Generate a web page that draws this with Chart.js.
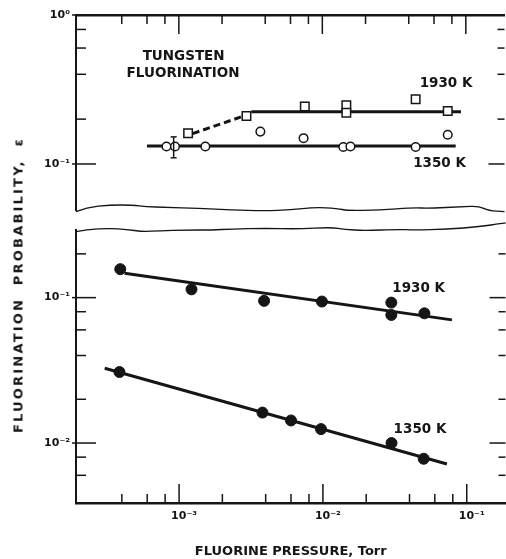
<!DOCTYPE html>
<html>
<head>
<meta charset="utf-8">
<script src="https://cdn.jsdelivr.net/npm/chart.js@4.4.0/dist/chart.umd.min.js"></script>
<style>
  html, body { margin: 0; padding: 0; background: #fff; overflow: hidden; }
  #wrap { position: relative; width: 506px; height: 559px; overflow: hidden; background: #fff; }
  canvas { position: absolute; left: 0; top: 0; }
  #ytitle {
    position: absolute; left: 18px; top: 285px;
    transform: translate(-50%, -50%) rotate(-90deg);
    white-space: nowrap; font: bold 13px "DejaVu Sans", sans-serif;
    letter-spacing: 2.2px; word-spacing: 6px; color: #151515;
  }
</style>
</head>
<body>
<div id="wrap">
  <canvas id="topChart" width="512" height="559"></canvas>
  <canvas id="bottomChart" width="512" height="559"></canvas>
  <div id="ytitle">FLUORINATION PROBABILITY, ε</div>
</div>
<script>
const INK = "#151515";
const FONT = '"DejaVu Sans", sans-serif';

// shared pressure axis (Torr)
const xMin = 1.92e-4, xMax = 0.186;
const xMajor = [1e-3, 1e-2, 1e-1];
const xMinor = [4e-4, 6e-4, 8e-4, 2e-3, 4e-3, 6e-3, 8e-3, 2e-2, 4e-2, 6e-2, 8e-2];

// upper panel
const topYMin = 0.0491, topYMax = 1;
const topYMajor = [1, 0.1];
const topYMinor = [0.8, 0.6, 0.4, 0.2];

const topP1930 = [1.16e-3, 2.96e-3, 7.55e-3, 0.0147, 0.0147, 0.0447, 0.0748];
const topE1930 = [0.161, 0.210, 0.243, 0.248, 0.221, 0.272, 0.227];
const topP1350 = [8.2e-4, 9.4e-4, 1.53e-3, 3.7e-3, 7.4e-3, 0.0140, 0.0157, 0.0447, 0.0748];
const topE1350 = [0.131, 0.131, 0.131, 0.165, 0.149, 0.130, 0.131, 0.130, 0.157];

const fitTop1350P = [6.0e-4, 0.085];
const fitTop1350E = [0.132, 0.132];
const fitTop1930DashP = [1.25e-3, 2.96e-3];
const fitTop1930DashE = [0.160, 0.213];
const fitTop1930P = [3.2e-3, 0.0925];
const fitTop1930E = [0.2244, 0.2244];

const errP = [9.2e-4];
const errLow = [0.110];
const errHigh = [0.152];

// lower panel
const botYMin = 0.00387, botYMax = 0.2918;
const botYMajor = [0.1, 0.01];
const botYMinor = [0.2, 0.08, 0.06, 0.04, 0.02, 0.008, 0.006];

const botP1930 = [3.9e-4, 1.22e-3, 3.9e-3, 9.84e-3, 0.0299, 0.0299, 0.0508];
const botE1930 = [0.157, 0.114, 0.095, 0.094, 0.0924, 0.076, 0.078];
const botP1350 = [3.85e-4, 3.8e-3, 6.0e-3, 9.7e-3, 0.030, 0.0502];
const botE1350 = [0.0308, 0.0162, 0.0143, 0.01247, 0.0100, 0.0078];

const fitBot1930P = [4.18e-4, 0.0789];
const fitBot1930E = [0.147, 0.0703];
const fitBot1350P = [3.04e-4, 0.0728];
const fitBot1350E = [0.0327, 0.00718];

// text placed in data space
const topNotes = [
  { text: "TUNGSTEN", x: 1.08e-3, y: 0.523 },
  { text: "FLUORINATION", x: 1.07e-3, y: 0.402 },
  { text: "1930 K", x: 0.0728, y: 0.348 },
  { text: "1350 K", x: 0.0656, y: 0.1 }
];
const bottomNotes = [
  { text: "1930 K", x: 0.0463, y: 0.116 },
  { text: "1350 K", x: 0.0473, y: 0.01247 }
];

// scale-break squiggles: [fraction of width, offset px from edge]
const topWave = [[0, 1.7], [0.025, -2.7], [0.079, -5], [0.132, -5], [0.163, -3.3], [0.209, -2.7], [0.286, -1.7],
  [0.363, 0], [0.44, 0.7], [0.501, 0], [0.556, -2.7], [0.61, -1.7], [0.633, 0.7], [0.709, 0], [0.787, -2.3],
  [0.824, -1.7], [0.902, -3.3], [0.94, -4], [0.963, 0.7], [1, 1.7]];
const bottomWave = [[0, 1.7], [0.025, -0.7], [0.079, -1.7], [0.117, -0.7], [0.155, 1.7], [0.194, 0.7], [0.256, 0],
  [0.316, 0], [0.363, -1], [0.44, -1.7], [0.517, -1], [0.594, -2.7], [0.625, -0.7], [0.671, 0.7], [0.748, -0.7],
  [0.787, 0], [0.864, -0.7], [0.94, -3.3], [0.993, -6.7], [1, -7]];

const SUP = { "-": "\u207B", "0": "\u2070", "1": "\u00B9", "2": "\u00B2", "3": "\u00B3" };
const powLabel = v => "10" + String(Math.round(Math.log10(v))).split("").map(c => SUP[c]).join("");
const pts = (xs, ys) => xs.map((x, i) => ({ x, y: ys[i] }));

function seg(ctx, x1, y1, x2, y2) {
  ctx.beginPath();
  ctx.moveTo(x1, y1);
  ctx.lineTo(x2, y2);
  ctx.stroke();
}

// ticks pointing inward on every edge
const inTicks = {
  id: "inTicks",
  afterDatasetsDraw(chart, args, o) {
    const { ctx, chartArea: a, scales: { x, y } } = chart;
    ctx.save();
    ctx.strokeStyle = INK;
    ctx.lineWidth = 1.5;
    o.yMajor.forEach(v => {
      const p = y.getPixelForValue(v);
      seg(ctx, a.left - 4, p, a.left + 20, p);
      seg(ctx, a.right - 16, p, a.right, p);
    });
    o.yMinor.forEach(v => {
      const p = y.getPixelForValue(v);
      seg(ctx, a.left, p, a.left + 10, p);
      seg(ctx, a.right - 7, p, a.right, p);
    });
    const edge = o.xEdge === "top" ? a.top : a.bottom;
    const dir = o.xEdge === "top" ? 1 : -1;
    xMajor.forEach(v => {
      const p = x.getPixelForValue(v);
      seg(ctx, p, edge, p, edge + dir * 19);
    });
    xMinor.forEach(v => {
      const p = x.getPixelForValue(v);
      seg(ctx, p, edge, p, edge + dir * 9);
    });
    ctx.restore();
  }
};

const breakLine = {
  id: "breakLine",
  afterDraw(chart, args, o) {
    const { ctx, chartArea: a } = chart;
    const base = o.edge === "top" ? a.top : a.bottom;
    const p = o.wave.map(([f, d]) => [a.left + f * (a.right - a.left), base + d]);
    ctx.save();
    ctx.strokeStyle = INK;
    ctx.lineWidth = 1.3;
    ctx.beginPath();
    ctx.moveTo(p[0][0], p[0][1]);
    for (let i = 1; i < p.length - 1; i++) {
      ctx.quadraticCurveTo(p[i][0], p[i][1], (p[i][0] + p[i + 1][0]) / 2, (p[i][1] + p[i + 1][1]) / 2);
    }
    ctx.lineTo(p[p.length - 1][0], p[p.length - 1][1]);
    ctx.stroke();
    ctx.restore();
  }
};

const notes = {
  id: "notes",
  afterDatasetsDraw(chart, args, o) {
    const { ctx, scales: { x, y } } = chart;
    ctx.save();
    ctx.fillStyle = INK;
    ctx.font = "bold 13.5px " + FONT;
    ctx.textAlign = "center";
    ctx.textBaseline = "middle";
    o.items.forEach(n => ctx.fillText(n.text, x.getPixelForValue(n.x), y.getPixelForValue(n.y)));
    ctx.restore();
  }
};

const errBars = {
  id: "errBars",
  afterDatasetsDraw(chart) {
    if (chart.canvas.id !== "topChart") return;
    const { ctx, scales: { x, y } } = chart;
    ctx.save();
    ctx.strokeStyle = INK;
    ctx.lineWidth = 1.5;
    errP.forEach((v, i) => {
      const px = x.getPixelForValue(v);
      const lo = y.getPixelForValue(errLow[i]);
      const hi = y.getPixelForValue(errHigh[i]);
      seg(ctx, px, lo, px, hi);
      seg(ctx, px - 3, lo, px + 3, lo);
      seg(ctx, px - 3, hi, px + 3, hi);
    });
    ctx.restore();
  }
};

const tickFont = { family: FONT, size: 11, weight: "bold" };

function xScale(isTop) {
  return {
    type: "logarithmic",
    position: isTop ? "top" : "bottom",
    min: xMin, max: xMax, bounds: "data",
    grid: { display: false, drawTicks: false },
    border: { width: 2.5, color: INK },
    afterBuildTicks: s => { s.ticks = xMajor.map(value => ({ value })); },
    ticks: {
      display: !isTop, autoSkip: false, maxRotation: 0, padding: 7, labelOffset: 5,
      color: INK, font: tickFont, callback: v => powLabel(v)
    },
    title: {
      display: !isTop, text: "FLUORINE PRESSURE, Torr", color: INK,
      font: { family: FONT, size: 13, weight: "bold" }, padding: { top: 0, bottom: 0 }
    },
    afterFit: s => { s.height = isTop ? 15 : 56; }
  };
}

function yScale(min, max, major) {
  return {
    type: "logarithmic",
    position: "left",
    min, max, bounds: "data",
    grid: { display: false, drawTicks: false },
    border: { width: 2, color: INK },
    afterBuildTicks: s => { s.ticks = major.map(value => ({ value })); },
    ticks: { autoSkip: false, padding: 6, color: INK, font: tickFont, callback: v => powLabel(v) },
    afterFit: s => { s.width = 76; }
  };
}

const openMarker = (style, r) => ({
  pointStyle: style, pointRadius: r, pointHoverRadius: r, pointBorderWidth: 1.5,
  pointBorderColor: INK, pointBackgroundColor: "#fff", order: 0
});
const fitLine = (data, dash) => ({
  data, showLine: true, pointRadius: 0, borderColor: INK, borderWidth: 3,
  borderDash: dash || [], order: 1
});

new Chart(document.getElementById("topChart"), {
  type: "scatter",
  data: {
    datasets: [
      Object.assign({ label: "1930 K", data: pts(topP1930, topE1930) }, openMarker("rect", 6)),
      Object.assign({ label: "1350 K", data: pts(topP1350, topE1350) }, openMarker("circle", 4.3)),
      fitLine(pts(fitTop1350P, fitTop1350E)),
      fitLine(pts(fitTop1930DashP, fitTop1930DashE), [7, 4]),
      fitLine(pts(fitTop1930P, fitTop1930E))
    ]
  },
  options: {
    responsive: false,
    animation: false,
    layout: { padding: { left: 0, right: 3, top: 0, bottom: 349 } },
    scales: { x: xScale(true), y: yScale(topYMin, topYMax, topYMajor) },
    plugins: {
      legend: { display: false },
      tooltip: { enabled: false },
      inTicks: { yMajor: topYMajor, yMinor: topYMinor, xEdge: "top" },
      breakLine: { edge: "bottom", wave: topWave },
      notes: { items: topNotes }
    }
  },
  plugins: [inTicks, breakLine, notes, errBars]
});

new Chart(document.getElementById("bottomChart"), {
  type: "scatter",
  data: {
    datasets: [
      { label: "1930 K", data: pts(botP1930, botE1930), pointRadius: 5.5, pointBackgroundColor: INK, pointBorderColor: INK, order: 0 },
      { label: "1350 K", data: pts(botP1350, botE1350), pointRadius: 5.5, pointBackgroundColor: INK, pointBorderColor: INK, order: 0 },
      fitLine(pts(fitBot1930P, fitBot1930E)),
      fitLine(pts(fitBot1350P, fitBot1350E))
    ]
  },
  options: {
    responsive: false,
    animation: false,
    layout: { padding: { left: 0, right: 3, top: 230, bottom: 0 } },
    scales: { x: xScale(false), y: yScale(botYMin, botYMax, botYMajor) },
    plugins: {
      legend: { display: false },
      tooltip: { enabled: false },
      inTicks: { yMajor: botYMajor, yMinor: botYMinor, xEdge: "bottom" },
      breakLine: { edge: "top", wave: bottomWave },
      notes: { items: bottomNotes }
    }
  },
  plugins: [inTicks, breakLine, notes, errBars]
});
</script>
</body>
</html>
